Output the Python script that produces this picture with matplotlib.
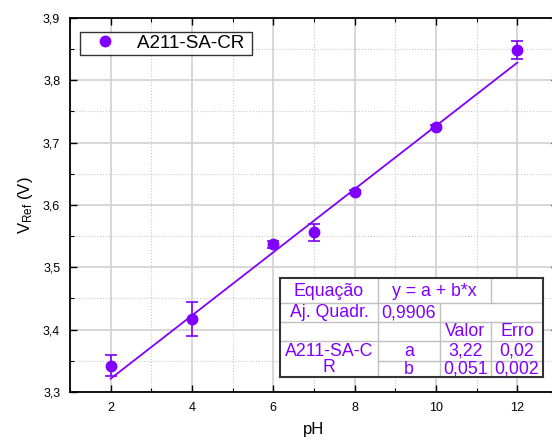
import numpy as np
import matplotlib
matplotlib.use('Agg')
import matplotlib.pyplot as plt
from matplotlib.lines import Line2D
from matplotlib.ticker import MultipleLocator, FuncFormatter

plt.rcParams['font.family'] = ['Liberation Sans', 'DejaVu Sans']
plt.rcParams['mathtext.fontset'] = 'custom'
plt.rcParams['mathtext.rm'] = 'Liberation Sans'
plt.rcParams['mathtext.it'] = 'Liberation Sans'

# dados
ph = [2, 4, 6, 7, 8, 10, 12]
vref = [3.342, 3.417, 3.537, 3.556, 3.621, 3.725, 3.849]
erro = [0.017, 0.027, 0.006, 0.014, 0.003, 0.003, 0.014]

# ajuste linear
a, b = 3.22, 0.0507
ph_fit = [2, 12]

# tabela do ajuste
tab_labels = ['Equação', 'Aj. Quadr.', 'A211-SA-C\nR']
tab_eq = 'y = a + b*x'
tab_r2 = '0,9906'
tab_head = ['Valor', 'Erro']
tab_par = ['a', 'b']
tab_val = ['3,22', '0,051']
tab_err = ['0,02', '0,002']

cor = '#8000ff'

fig = plt.figure(figsize=(5.52, 4.42), dpi=100)
ax = fig.add_axes([70/552, 50/442, 488/552, 374/442])

ax.errorbar(ph, vref, yerr=erro, fmt='o', color=cor, ms=7.5, capsize=4,
            elinewidth=1.2, capthick=1.2, zorder=3)
xf = np.array(ph_fit)
ax.plot(xf, a + b * xf, color=cor, lw=1.3, zorder=2)

ax.set_xlim(1, 13)
ax.set_ylim(3.3, 3.9)
ax.xaxis.set_major_locator(MultipleLocator(2))
ax.xaxis.set_minor_locator(MultipleLocator(1))
ax.yaxis.set_major_locator(MultipleLocator(0.1))
ax.yaxis.set_minor_locator(MultipleLocator(0.05))
ax.yaxis.set_major_formatter(FuncFormatter(lambda v, p: ('%.1f' % v).replace('.', ',')))
ax.tick_params(which='both', direction='in', top=True, right=True, labelsize=9)
ax.tick_params(which='major', length=5, width=1, pad=7)
ax.tick_params(which='minor', length=3, width=0.8)
for s in ax.spines.values():
    s.set_linewidth(1.3)

ax.grid(which='major', color='#d4d4d4', lw=1.3, ls='-', zorder=0)
ax.grid(which='minor', color='#c8c8c8', lw=0.8, ls=':', zorder=0)
ax.set_axisbelow(True)

ax.set_xlabel('pH', fontsize=12, labelpad=6)
ax.set_ylabel(r'V$_{\mathrm{Ref}}$ (V)', fontsize=12, labelpad=6)

# legenda so com o marcador
h = Line2D([], [], ls='none', marker='o', ms=7.5, color=cor)
leg = ax.legend([h], ['A211-SA-CR '], loc='upper left', bbox_to_anchor=(0.02, 0.963),
                borderaxespad=0, fontsize=13.5, frameon=True, fancybox=False,
                borderpad=0.15, handletextpad=0.5, handlelength=2.4)
leg.get_frame().set_edgecolor('black')
leg.get_frame().set_linewidth(1.0)

# tabela
tx = fig.add_axes([280/552, (442-377)/442, 263/552, 99/442])
tx.set_xlim(0, 263)
tx.set_ylim(99, 0)
tx.set_xticks([])
tx.set_yticks([])
for s in tx.spines.values():
    s.set_linewidth(1.5)
    s.set_color('#333333')
g = '#c0c0c0'
tx.plot([0, 263], [25, 25], color=g, lw=1)
tx.plot([0, 263], [43.5, 43.5], color=g, lw=1)
tx.plot([0, 263], [62.5, 62.5], color=g, lw=1)
tx.plot([98, 263], [82.5, 82.5], color=g, lw=1)
tx.plot([98, 98], [0, 99], color=g, lw=1)
tx.plot([160, 160], [25, 99], color=g, lw=1)
tx.plot([211, 211], [0, 25], color=g, lw=1)
tx.plot([211, 211], [43.5, 99], color=g, lw=1)

fs = 12.8
tx.text(49, 13, tab_labels[0], color=cor, fontsize=fs, ha='center', va='center')
tx.text(49, 34.5, tab_labels[1], color=cor, fontsize=fs, ha='center', va='center')
tx.text(49, 81.5, tab_labels[2], color=cor, fontsize=fs, ha='center', va='center', linespacing=0.9)
tx.text(154.5, 13, tab_eq, color=cor, fontsize=fs, ha='center', va='center')
tx.text(129, 34.5, tab_r2, color=cor, fontsize=fs, ha='center', va='center')
tx.text(185.5, 53.5, tab_head[0], color=cor, fontsize=fs, ha='center', va='center')
tx.text(237, 53.5, tab_head[1], color=cor, fontsize=fs, ha='center', va='center')
for i, yy in enumerate([73, 91]):
    tx.text(129, yy, tab_par[i], color=cor, fontsize=fs, ha='center', va='center')
    tx.text(185.5, yy, tab_val[i], color=cor, fontsize=fs, ha='center', va='center')
    tx.text(237, yy, tab_err[i], color=cor, fontsize=fs, ha='center', va='center')

fig.savefig('out.png', dpi=100)
